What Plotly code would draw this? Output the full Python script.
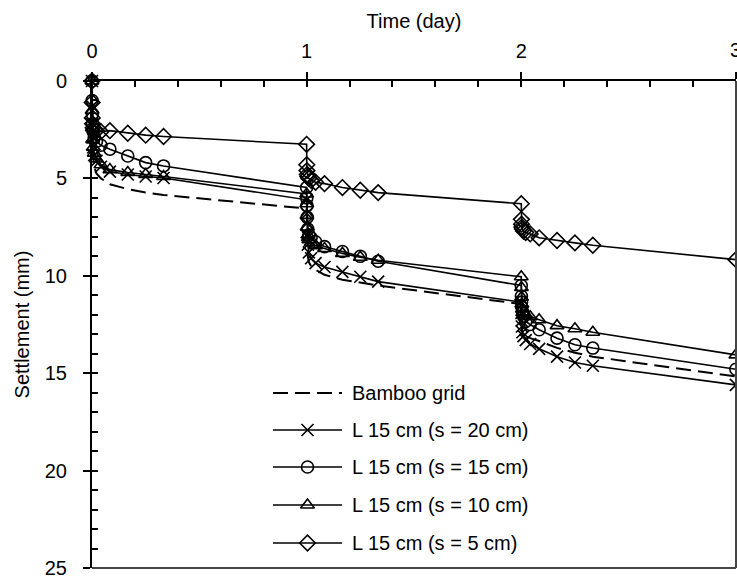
import plotly.graph_objects as go

# ---------------- data ----------------
reading_minutes = [0, 1, 2, 4, 8, 15, 30, 60, 120, 240, 360, 480]   # readings within each load stage
stage_start_day = [0, 1, 2]
final_day = 3
time_day = [d + m / 1440 for d in stage_start_day for m in reading_minutes] + [final_day]

series_names = ["Bamboo grid", "L 15 cm (s = 20 cm)", "L 15 cm (s = 15 cm)",
                "L 15 cm (s = 10 cm)", "L 15 cm (s = 5 cm)"]

bamboo_grid = [0, 1.5, 2.5, 3.3, 3.9, 4.4, 4.75, 5.0, 5.3, 5.55, 5.72, 5.85,
               6.55, 7.3, 7.9, 8.5, 9.0, 9.3, 9.5, 9.7, 9.95, 10.2, 10.35, 10.5,
               11.45, 12.0, 12.4, 12.7, 12.9, 13.0, 13.1, 13.2, 13.35, 13.7, 13.95, 14.15,
               15.17]
s20 = [0, 1.3, 2.2, 2.9, 3.4, 3.8, 4.1, 4.4, 4.65, 4.8, 4.9, 4.98,
       6.1, 6.8, 7.3, 7.9, 8.4, 8.8, 9.1, 9.35, 9.55, 9.8, 10.05, 10.3,
       11.35, 11.9, 12.3, 12.6, 12.9, 13.1, 13.3, 13.5, 13.75, 14.15, 14.45, 14.62,
       15.6]
s15 = [0, 1.0, 1.7, 2.2, 2.6, 2.9, 3.1, 3.3, 3.5, 3.85, 4.19, 4.36,
       5.47, 6.0, 6.4, 7.0, 7.6, 7.9, 8.05, 8.25, 8.5, 8.75, 9.0, 9.25,
       10.5, 11.05, 11.35, 11.6, 11.85, 12.08, 12.34, 12.5, 12.77, 13.2, 13.54, 13.71,
       14.8]
s10 = [0, 1.5, 2.4, 3.0, 3.4, 3.7, 4.0, 4.3, 4.55, 4.7, 4.8, 4.9,
       5.8, 6.3, 6.9, 7.5, 7.9, 8.15, 8.3, 8.45, 8.6, 8.85, 9.05, 9.2,
       10.05, 10.6, 11.1, 11.45, 11.7, 11.85, 12.0, 12.1, 12.26, 12.56, 12.72, 12.9,
       14.06]
s5 = [0, 1.1, 1.9, 2.2, 2.4, 2.5, 2.55, 2.6, 2.55, 2.68, 2.78, 2.85,
      3.25, 4.3, 4.6, 4.8, 4.9, 5.0, 5.1, 5.2, 5.27, 5.47, 5.61, 5.73,
      6.3, 7.1, 7.35, 7.5, 7.6, 7.7, 7.78, 7.85, 8.05, 8.19, 8.31, 8.43,
      9.17]

series_values = [bamboo_grid, s20, s15, s10, s5]
series_symbols = [None, "x-thin-open", "circle-open", "triangle-up-open", "diamond-open"]

x_range = [0, 3.0005]
y_range = [25, 0]
x_edge_tick = 3   # last tick label, sits on the page edge

# ---------------- style ----------------
FONT = "Arial, Liberation Sans, sans-serif"
FS = 20
LW = 1.6
DASH = "15px,7px"
ML, MR, MT, MB = 92, 1, 81, 12
W, H = 737, 580


def px_to_x(px):
    return x_range[0] + (px - ML) / (W - MR - ML) * (x_range[1] - x_range[0])


def px_to_y(py):
    return y_range[1] + (py - MT) / (H - MB - MT) * (y_range[0] - y_range[1])


fig = go.Figure()
for name, vals, sym in zip(series_names, series_values, series_symbols):
    if sym is None:
        fig.add_trace(go.Scatter(x=time_day, y=vals, mode="lines", name=name,
                                 line=dict(color="black", width=2, dash=DASH),
                                 cliponaxis=False, showlegend=False))
    else:
        fig.add_trace(go.Scatter(x=time_day, y=vals, mode="lines+markers", name=name,
                                 line=dict(color="black", width=LW),
                                 marker=dict(symbol=sym, size=12, color="black",
                                             line=dict(color="black", width=1.6)),
                                 cliponaxis=False, showlegend=False))

# ---------------- hand-drawn legend (layout positions given in pixels) ----------------
leg_rows_px = [393, 430, 467, 505, 543]
leg_line_px = (273, 342)
leg_text_px = 350
shapes = []
annotations = []
for name, sym, ry in zip(series_names, series_symbols, leg_rows_px):
    yy = px_to_y(ry)
    shapes.append(dict(type="line", xref="x", yref="y",
                       x0=px_to_x(leg_line_px[0]), x1=px_to_x(leg_line_px[1]), y0=yy, y1=yy,
                       line=dict(color="black", width=2 if sym is None else LW,
                                 dash=DASH if sym is None else "solid")))
    if sym is not None:
        fig.add_trace(go.Scatter(x=[px_to_x((leg_line_px[0] + leg_line_px[1]) / 2)], y=[yy],
                                 mode="markers", showlegend=False, hoverinfo="skip",
                                 cliponaxis=False,
                                 marker=dict(symbol=sym, size=12, color="black",
                                             line=dict(color="black", width=1.6))))
    annotations.append(dict(xref="x", yref="y", x=px_to_x(leg_text_px), y=yy, text=name,
                            xanchor="left", yanchor="middle", showarrow=False,
                            font=dict(family=FONT, size=FS, color="black")))

# tick label at the right page edge (plotly drops it as it overflows the page)
annotations.append(dict(xref="x", yref="paper", x=x_edge_tick, y=1, text=str(x_edge_tick),
                        xanchor="center", yanchor="middle", yshift=31, showarrow=False,
                        font=dict(family=FONT, size=FS, color="black")))

# right and bottom frame lines
shapes.append(dict(type="line", xref="paper", yref="paper", x0=1, x1=1, y0=0, y1=1,
                   line=dict(color="#444", width=2)))
shapes.append(dict(type="line", xref="paper", yref="paper", x0=0, x1=1, y0=0, y1=0,
                   line=dict(color="#444", width=2)))

fig.update_layout(
    width=W, height=H,
    margin=dict(l=ML, r=MR, t=MT, b=MB, pad=0),
    plot_bgcolor="white", paper_bgcolor="white",
    font=dict(family=FONT, size=FS, color="black"),
    xaxis=dict(range=x_range, side="top", tick0=0, dtick=1,
               ticks="outside", ticklen=7, tickwidth=1.5, tickcolor="black",
               showline=True, linecolor="black", linewidth=2,
               showgrid=False, zeroline=False,
               minor=dict(dtick=0.2, ticks="inside", ticklen=6, tickwidth=1.5,
                          tickcolor="black", showgrid=False),
               tickfont=dict(size=FS), ticklabelstandoff=6,
               title=dict(text="Time (day)", font=dict(size=FS), standoff=6)),
    yaxis=dict(range=y_range, tick0=0, dtick=5,
               ticks="outside", ticklen=7, tickwidth=1.5, tickcolor="black",
               showline=True, linecolor="black", linewidth=2,
               showgrid=False, zeroline=False,
               minor=dict(dtick=1, ticks="inside", ticklen=6, tickwidth=1.5,
                          tickcolor="black", showgrid=False),
               tickfont=dict(size=FS), ticklabelstandoff=12,
               title=dict(text="Settlement (mm)", font=dict(size=FS), standoff=10)),
    shapes=shapes, annotations=annotations,
)

fig.write_html("out.html")
